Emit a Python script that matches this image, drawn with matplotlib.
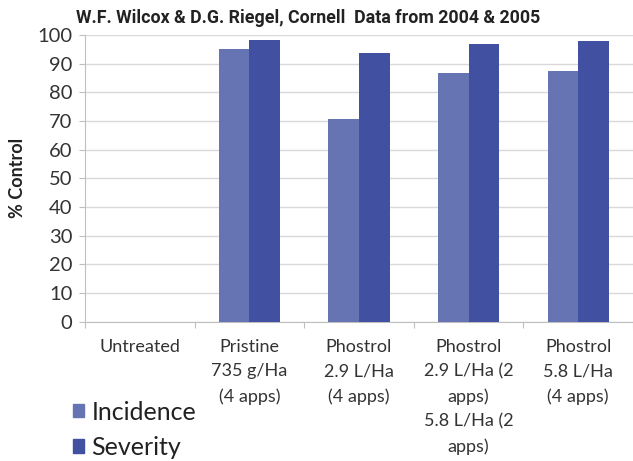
import matplotlib
matplotlib.use("Agg")
import matplotlib.pyplot as plt
import numpy as np
from matplotlib.patches import Patch

categories = ["Untreated", "Pristine\n735 g/Ha\n(4 apps)", "Phostrol\n2.9 L/Ha\n(4 apps)",
              "Phostrol\n2.9 L/Ha (2\napps)\n5.8 L/Ha (2\napps)", "Phostrol\n5.8 L/Ha\n(4 apps)"]
incidence = [0, 95.1, 70.6, 86.9, 87.4]
severity = [0, 98.3, 93.7, 96.9, 97.8]
series_names = ["Incidence", "Severity"]
colors = ["#6674B4", "#4150A0"]
title = "W.F. Wilcox & D.G. Riegel, Cornell  Data from 2004 & 2005"

plt.rcParams['font.family'] = ['Lato', 'DejaVu Sans']

fig = plt.figure(figsize=(6.33, 4.61), dpi=100)
ax = fig.add_axes([85/633, 1 - 321.7/461, 1 - 85/633, (321.7 - 35)/461])

x = np.arange(len(categories))
w = 0.28
ax.bar(x - w/2, incidence, w, color=colors[0], zorder=3)
ax.bar(x + w/2, severity, w, color=colors[1], zorder=3)

ax.set_xlim(-0.5, len(categories) - 0.5)
ax.set_ylim(0, 100)
ax.set_yticks(np.arange(0, 101, 10))
ax.yaxis.grid(True, color="#D9D9D9", linewidth=1, zorder=0)
ax.tick_params(axis='y', labelsize=14.5, labelcolor="#333333", length=4, color="#BFBFBF", pad=5)
ax.set_xticks(np.arange(-0.5, len(categories), 1))
ax.set_xticklabels([])
ax.tick_params(axis='x', length=4, color="#BFBFBF")
for i, c in enumerate(categories):
    ax.text(i, -6.0, c, ha='center', va='top', fontsize=13, color="#333333",
            linespacing=1.65, transform=ax.transData)
for s in ["top", "right"]:
    ax.spines[s].set_visible(False)
for s in ["left", "bottom"]:
    ax.spines[s].set_color("#BFBFBF")
ax.set_ylabel("% Control", fontsize=13, fontweight='bold', color="#222222", labelpad=8)

fig.text(308/633, 1 - 18/461, title, ha='center', va='center', fontsize=12.8,
         fontweight='bold', family=['Roboto', 'DejaVu Sans'], color="#222222")

handles = [Patch(color=colors[0]), Patch(color=colors[1])]
fig.legend(handles, series_names, loc='upper left', bbox_to_anchor=(55/633, 1 - 383/461),
           frameon=False, fontsize=18, handlelength=0.45, handleheight=0.45,
           handletextpad=0.3, labelspacing=0.5, labelcolor="#222222",
           borderpad=0.2)

fig.savefig("out.png", dpi=100)
